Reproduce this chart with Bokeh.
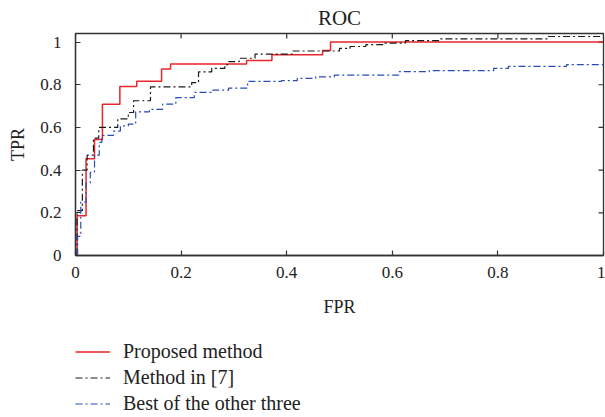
from bokeh.plotting import figure
from bokeh.layouts import column
from bokeh.models import Legend, LegendItem, Range1d, FixedTicker
from bokeh.embed import file_html
from bokeh.resources import INLINE

# Proposed method (step curve: value holds from x[i] to x[i+1])
fpr_prop = [0.003, 0.003, 0.020, 0.036, 0.051, 0.084, 0.116, 0.163, 0.180, 0.324, 0.372, 0.468, 0.483, 1.0]
tpr_prop = [0.0, 0.186, 0.453, 0.544, 0.709, 0.792, 0.816, 0.874, 0.897, 0.913, 0.940, 0.960, 1.0, 1.0]

# Method in [7]
fpr_m7 = [0.003, 0.003, 0.013, 0.022, 0.034, 0.044, 0.080, 0.100, 0.110, 0.142, 0.220, 0.233, 0.258,
          0.283, 0.290, 0.310, 0.340, 0.410, 0.500, 0.520, 0.550, 0.585, 0.625, 0.690, 0.895, 1.0]
tpr_m7 = [0.0, 0.21, 0.40, 0.47, 0.55, 0.60, 0.64, 0.67, 0.725, 0.79, 0.81, 0.86, 0.877,
          0.894, 0.908, 0.924, 0.943, 0.958, 0.97, 0.979, 0.988, 0.995, 1.007, 1.015, 1.026, 1.026]

# Best of the other three
fpr_best = [0.004, 0.004, 0.010, 0.020, 0.028, 0.036, 0.045, 0.050, 0.072, 0.085, 0.100, 0.114, 0.140,
            0.165, 0.190, 0.225, 0.260, 0.290, 0.326, 0.390, 0.420, 0.455, 0.490, 0.612, 0.670, 0.792,
            0.820, 0.930, 1.0]
tpr_best = [0.0, 0.09, 0.25, 0.34, 0.39, 0.47, 0.53, 0.563, 0.583, 0.607, 0.615, 0.673, 0.685,
            0.709, 0.74, 0.764, 0.775, 0.784, 0.816, 0.819, 0.83, 0.837, 0.845, 0.861, 0.866, 0.877,
            0.886, 0.894, 0.894]

series_names = ["Proposed method", "Method in [7]", "Best of the other three"]
series_x = [fpr_prop, fpr_m7, fpr_best]
series_y = [tpr_prop, tpr_m7, tpr_best]

ticks = [0, 0.2, 0.4, 0.6, 0.8, 1]
tick_labels = {0: "0", 0.2: "0.2", 0.4: "0.4", 0.6: "0.6", 0.8: "0.8", 1: "1"}

X_MAX = 1.0
Y_MAX = 1.04
FONT = "Liberation Serif"
AX = "#333333"
STYLES = [dict(line_color="#e8262b", line_width=1.5),
          dict(line_color="#1a1a1a", line_width=1.2, line_dash="7 3 2 3"),
          dict(line_color="#2a4bb5", line_width=1.2, line_dash="7 3 2 3")]

p = figure(frame_width=528, frame_height=222, x_range=Range1d(0, X_MAX), y_range=Range1d(0, Y_MAX),
           output_backend="svg", toolbar_location=None, title="ROC",
           min_border_left=0, min_border_right=2, min_border_top=0, min_border_bottom=0,
           margin=(0, 0, 0, 5))
p.title.align = "center"
p.title.text_font = FONT
p.title.text_font_size = "21px"
p.title.standoff = 7
p.title.text_font_style = "normal"
p.title.text_color = "#222222"
p.grid.visible = False
p.outline_line_color = AX
p.outline_line_width = 1.3
p.background_fill_color = "white"
p.border_fill_color = "white"

for ax in (p.xaxis[0], p.yaxis[0]):
    ax.ticker = FixedTicker(ticks=ticks)
    ax.major_label_overrides = tick_labels
    ax.major_tick_in = 5
    ax.major_tick_out = 0
    ax.minor_tick_line_color = None
    ax.axis_line_color = AX
    ax.axis_line_width = 1.3
    ax.major_tick_line_color = AX
    ax.major_tick_line_width = 1.2
    ax.major_label_text_font = FONT
    ax.major_label_text_font_size = "17px"
    ax.major_label_text_color = "#222222"
    ax.axis_label_text_font = FONT
    ax.axis_label_text_font_size = "18px"
    ax.axis_label_text_font_style = "normal"
    ax.axis_label_text_color = "#222222"

p.xaxis.axis_label = "FPR"
p.yaxis.axis_label = "TPR"
p.yaxis.major_label_standoff = 14
p.xaxis.major_label_standoff = 11
p.yaxis.axis_label_standoff = 9
p.xaxis.axis_label_standoff = 16

# inward ticks on the top and right edges of the box
tx = 5 * X_MAX / 528
ty = 5 * Y_MAX / 222
p.segment(x0=ticks, x1=ticks, y0=[Y_MAX] * len(ticks), y1=[Y_MAX - ty] * len(ticks),
          line_color=AX, line_width=1.2)
p.segment(x0=[X_MAX] * len(ticks), x1=[X_MAX - tx] * len(ticks), y0=ticks, y1=ticks,
          line_color=AX, line_width=1.2)

for xs, ys, st in zip(series_x, series_y, STYLES):
    p.step(xs, ys, mode="after", **st)

# legend panel below the chart (same series, drawn outside its visible range)
p2 = figure(width=592, height=98, x_range=Range1d(0, X_MAX), y_range=Range1d(5, 6),
            output_backend="svg", toolbar_location=None,
            min_border_left=0, min_border_right=0, min_border_top=0, min_border_bottom=0,
            margin=(0, 0, 0, 5))
p2.axis.visible = False
p2.grid.visible = False
p2.outline_line_color = None
p2.border_fill_color = "white"
p2.background_fill_color = "white"
items = []
for name, xs, ys, st in zip(series_names, series_x, series_y, STYLES):
    r = p2.step(xs, ys, mode="after", **st)
    items.append(LegendItem(label=name, renderers=[r]))
legend = Legend(items=items, location=(0, 2), orientation="vertical",
                label_text_font=FONT, label_text_font_size="20px", label_text_color="#222222",
                glyph_width=35, glyph_height=21, label_height=21, label_standoff=13, spacing=3,
                padding=0, margin=0, border_line_color=None, background_fill_alpha=0)
p2.add_layout(legend, "center")

open("out.html", "w").write(file_html(column(p, p2, spacing=0), INLINE))
